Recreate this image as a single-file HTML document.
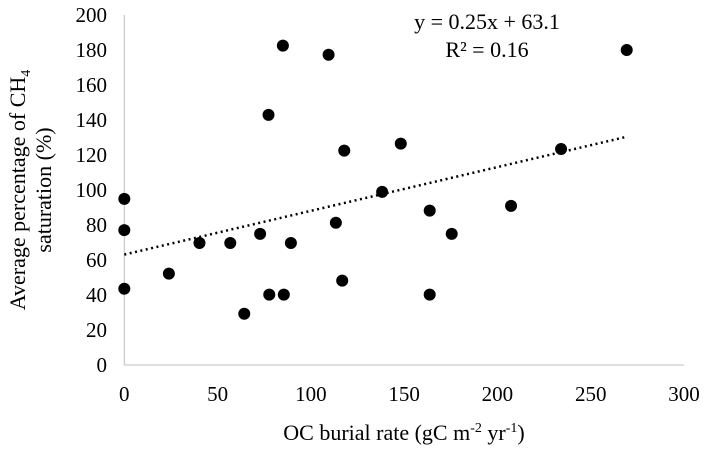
<!DOCTYPE html>
<html><head><meta charset="utf-8"><style>
body{margin:0;background:#fff}
svg text{font-family:"Liberation Serif",serif;fill:#000}
</style></head><body>
<svg id="chart" width="709" height="448">
<g id="axes"></g><g id="pts"></g>
<text x="487" y="29" font-size="22" text-anchor="middle">y = 0.25x + 63.1</text>
<text x="487" y="57" font-size="22" text-anchor="middle">R² = 0.16</text>
<text x="404" y="440" font-size="22" text-anchor="middle">OC burial rate (gC m<tspan font-size="14" dy="-8">-2</tspan><tspan dy="8"> yr</tspan><tspan font-size="14" dy="-8">-1</tspan><tspan dy="8">)</tspan></text>
<g transform="translate(0,190) rotate(-90)">
<text x="0" y="25" font-size="22" text-anchor="middle">Average percentage of CH<tspan font-size="14" dy="5">4</tspan></text>
<text x="0" y="51" font-size="22" text-anchor="middle">saturation (%)</text>
</g>
</svg>
<script>
const xs=[0,0,0,23.9,40.3,56.8,72.8,77.3,85,109.5,64.3,77.7,85.5,89.3,113.4,116.8,117.9,138.2,148.2,163.7,163.7,175.5,207.3,234.1,269.3];
const ys=[94.9,77.1,43.6,52.2,69.7,69.7,74.9,142.9,182.5,177.3,29.3,40.2,40.2,69.7,81.3,48.2,122.5,98.9,126.5,88.2,40.2,74.9,90.9,123.4,180];
const xTicks=[0,50,100,150,200,250,300];
const yTicks=[0,20,40,60,80,100,120,140,160,180,200];
const slope=0.25, intercept=63.1, trendEnd=269.3;
const X=v=>124.3+v*(684-124.3)/300;
const Y=v=>365-v*350/200;
const NS='http://www.w3.org/2000/svg';
const ax=document.getElementById('axes'),pg=document.getElementById('pts');
function mk(t,a,p){const e=document.createElementNS(NS,t);for(const k in a)e.setAttribute(k,a[k]);p.appendChild(e);return e;}
let l=mk('line',{x1:X(0),y1:Y(0),x2:X(300),y2:Y(0),stroke:'#bfbfbf','stroke-width':1},ax);


l=mk('line',{x1:X(0),y1:Y(0),x2:X(0),y2:Y(200),stroke:'#bfbfbf','stroke-width':1},ax);


xTicks.forEach(t=>{const e=mk('text',{x:X(t),y:401,'font-size':21,'text-anchor':'middle'},ax);e.textContent=t;

});
yTicks.forEach(t=>{const e=mk('text',{x:107,y:Y(t)+7,'font-size':21,'text-anchor':'end'},ax);e.textContent=t;

});
const tl=mk('line',{x1:X(0),y1:Y(intercept),x2:X(trendEnd),y2:Y(intercept+slope*trendEnd),stroke:'#000','stroke-width':2.5,'stroke-dasharray':'2 3.5'},pg);


xs.forEach((x,i)=>{const c=mk('circle',{cx:X(x),cy:Y(ys[i]),r:6,fill:'#000'},pg);

});
</script>
</body></html>
